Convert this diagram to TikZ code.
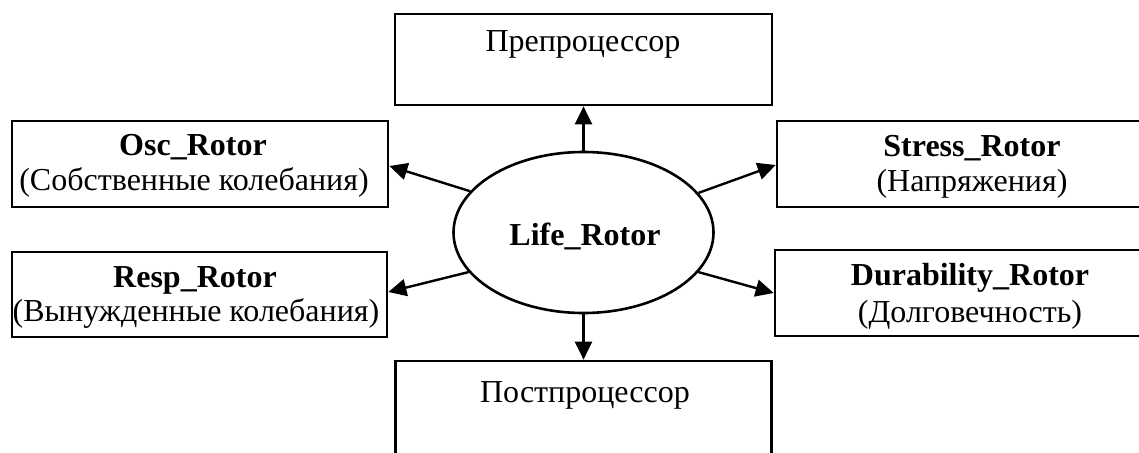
\documentclass[tikz,border=0pt]{standalone}
\usepackage{fontspec}
\setmainfont{Liberation Serif}
\usetikzlibrary{shapes.geometric,arrows.meta,calc}
\tikzset{
  box/.style={draw, line width=2.7pt, rectangle, inner sep=0pt},
  hub/.style={draw, line width=2.6pt, ellipse, inner sep=0pt,
    minimum width=260pt, minimum height=161pt},
  title/.style={anchor=base, inner sep=0pt, font=\fontsize{32}{36}\selectfont\bfseries},
  note/.style={anchor=base, inner sep=0pt, font=\fontsize{32}{36}\selectfont},
  link/.style={line width=2.4pt, -{Triangle[length=18pt,width=17pt]}}
}
\begin{document}
\begin{tikzpicture}[x=1pt,y=-1pt]
\useasboundingbox (0,0) rectangle (1139,452);
\clip (0,0) rectangle (1139,452);

% central module
\node[hub] (life) at (583.5,232.5) {};
\node[title] (lifet) at (585,245) {Life\_Rotor};

% surrounding modules
\node[box, minimum width=377pt, minimum height=91pt] (pre) at (583.5,59.5) {};
\node[note] (pret) at (583,52) {Препроцессор};

\node[box, minimum width=376pt, minimum height=100pt] (post) at (583.5,411) {};
\node[note] (postt) at (585,402) {Постпроцессор};

\node[box, minimum width=376pt, minimum height=86pt] (osc) at (200,164) {};
\node[title] (osct) at (193,155) {Osc\_Rotor};
\node[note] (oscn) at (194,190) {(Собственные колебания)};

\node[box, minimum width=375pt, minimum height=85pt] (resp) at (199.5,294.5) {};
\node[title] (respt) at (195,287) {Resp\_Rotor};
\node[note] (respn) at (196,321) {(Вынужденные колебания)};

\node[box, minimum width=390pt, minimum height=86pt] (stress) at (972,164) {};
\node[title] (stresst) at (972,156) {Stress\_Rotor};
\node[note] (stressn) at (972,191) {(Напряжения)};

\node[box, minimum width=390pt, minimum height=86pt] (dur) at (970,293) {};
\node[title] (durt) at (970,285) {Durability\_Rotor};
\node[note] (durn) at (970,322) {(Долговечность)};

% connectors
\draw[link] (life.north) -- (pre.south);
\draw[link] (life.south) -- (post.north);
\draw[link] (life.160.6) -- ($(osc.east)+(0,2)$);
\draw[link] (life.199.4) -- ($(resp.east)+(0,-2.5)$);
\draw[link] (life.19.4) -- ($(stress.west)+(0,1)$);
\draw[link] (life.-19.6) -- (dur.west);
\end{tikzpicture}
\end{document}
